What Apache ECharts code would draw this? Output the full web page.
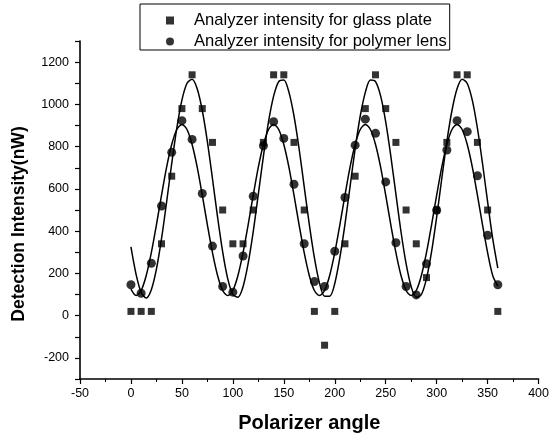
<!DOCTYPE html>
<html>
<head>
<meta charset="utf-8">
<script src="https://cdn.jsdelivr.net/npm/echarts@6/dist/echarts.min.js"></script>
<style>
html,body{margin:0;padding:0;background:#fff;}
#chart{width:552px;height:439px;}
</style>
</head>
<body>
<div id="chart"></div>
<script>
// Measured angles (degrees)
const angles = [0,10,20,30,40,50,60,70,80,90,100,110,120,130,140,150,160,170,180,190,200,210,220,230,240,250,260,270,280,290,300,310,320,330,340,350,360];
// Analyzer intensity for glass plate (nW)
const glassValues = [20,20,20,340,660,980,1140,980,820,500,340,340,500,820,1140,1140,820,500,20,-140,20,340,660,980,1140,980,820,500,340,180,500,820,1140,1140,820,500,20];
// Analyzer intensity for polymer lens (nW)
const polymerValues = [146,106,248,519,773,923,834,578,329,138,111,282,565,804,918,839,622,340,161,138,305,559,807,930,863,633,345,138,98,245,499,784,923,871,662,380,146];
// Fitted curves, every 5 degrees
const fitAngles = [0,5,10,15,20,25,30,35,40,45,50,55,60,65,70,75,80,85,90,95,100,105,110,115,120,125,130,135,140,145,150,155,160,165,170,175,180,185,190,195,200,205,210,215,220,225,230,235,240,245,250,255,260,265,270,275,280,285,290,295,300,305,310,315,320,325,330,335,340,345,350,355,360];
const glassFit = [325,196,110,84,123,220,364,538,720,888,1020,1100,1119,1074,971,824,648,466,302,174,100,87,137,247,398,575,755,918,1039,1108,1115,1058,945,790,611,432,274,154,92,92,152,275,432,611,790,945,1057,1115,1108,1040,917,755,575,397,246,137,87,100,175,303,467,648,824,971,1074,1119,1099,1019,887,720,538,364,225];
const polymerFit = [125,95,119,190,298,430,570,703,810,881,905,881,810,703,570,430,298,190,119,95,119,190,298,430,570,703,810,881,905,881,810,703,570,430,298,190,119,95,119,190,298,430,570,703,810,881,905,881,810,703,570,430,298,190,119,95,119,190,298,430,570,703,810,881,905,881,810,703,570,430,298,190,140];
// Axis tick labels
const yTickLabels = [-200,0,200,400,600,800,1000,1200];
const seriesNames = ['Analyzer intensity for glass plate','Analyzer intensity for polymer lens'];

const FONT = 'Liberation Sans, Arial, sans-serif';
const zip = (xs, ys) => xs.map((x, i) => [x, ys[i]]);

const chart = echarts.init(document.getElementById('chart'), null, {renderer: 'canvas'});
chart.setOption({
  animation: false,
  backgroundColor: '#fff',
  grid: {left: 80, right: 12, top: 41, bottom: 60},
  legend: {
    orient: 'vertical',
    left: 140,
    top: 4,
    padding: [8, 3, 0, 26],
    itemGap: 4,
    itemWidth: 8,
    itemHeight: 8,
    borderColor: '#000',
    borderWidth: 1,
    backgroundColor: '#fff',
    textStyle: {fontFamily: FONT, fontSize: 16.6, color: '#000', padding: [0, 0, 0, 15]},
    data: [
      {name: seriesNames[0], icon: 'rect', itemStyle: {color: '#000'}},
      {name: seriesNames[1], icon: 'circle', itemStyle: {color: '#000'}}
    ]
  },
  xAxis: {
    type: 'value', min: -50, max: 400, interval: 50,
    axisLine: {show: true, onZero: false, lineStyle: {color: '#000', width: 1.6}},
    axisTick: {show: true, inside: false, length: 5, lineStyle: {color: '#000', width: 1.2}},
    minorTick: {show: true, splitNumber: 2, length: 3, lineStyle: {color: '#000', width: 1}},
    splitLine: {show: false},
    axisLabel: {margin: 8, fontFamily: FONT, fontSize: 12.5, color: '#000'},
    name: 'Polarizer angle', nameLocation: 'middle', nameGap: 34,
    nameTextStyle: {fontFamily: FONT, fontSize: 20, fontWeight: 'bold', color: '#000'}
  },
  yAxis: {
    type: 'value', min: -300, max: 1300, interval: 100,
    axisLine: {show: true, onZero: false, lineStyle: {color: '#000', width: 1.6}},
    axisTick: {show: true, inside: false, length: 5, lineStyle: {color: '#000', width: 1.2}},
    splitLine: {show: false},
    axisLabel: {
      margin: 11, fontFamily: FONT, fontSize: 12.5, color: '#000',
      formatter: v => (yTickLabels.indexOf(v) >= 0 ? String(v) : '')
    },
    name: 'Detection Intensity(nW)', nameLocation: 'middle', nameGap: 52, nameRotate: 90,
    nameTextStyle: {fontFamily: FONT, fontSize: 17.5, fontWeight: 'bold', color: '#000', padding: [0, 28, 0, 0]}
  },
  series: [
    {
      name: seriesNames[0], type: 'scatter', symbol: 'rect', symbolSize: 7,
      itemStyle: {color: '#000'}, data: zip(angles, glassValues), z: 3
    },
    {
      name: seriesNames[1], type: 'scatter', symbol: 'circle', symbolSize: 9,
      itemStyle: {color: '#000'}, data: zip(angles, polymerValues), z: 3
    },
    {
      name: 'glassFit', type: 'line', smooth: 0.3, showSymbol: false, symbol: 'none',
      lineStyle: {color: '#000', width: 1.5}, data: zip(fitAngles, glassFit), z: 2
    },
    {
      name: 'polymerFit', type: 'line', smooth: 0.3, showSymbol: false, symbol: 'none',
      lineStyle: {color: '#000', width: 1.5}, data: zip(fitAngles, polymerFit), z: 2
    }
  ]
});
</script>
</body>
</html>
